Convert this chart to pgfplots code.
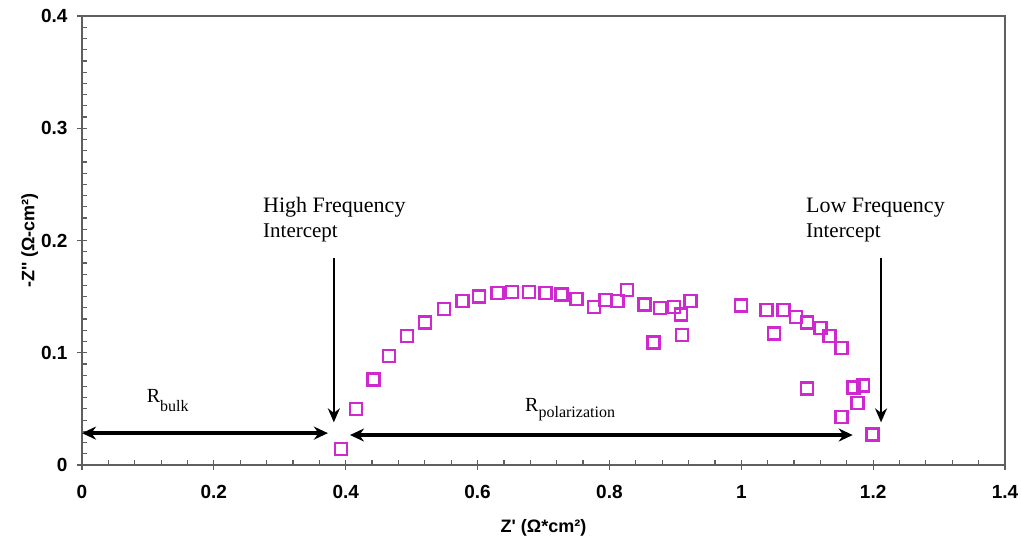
\documentclass[border=0pt]{standalone}
\usepackage{pgfplots}
\pgfplotsset{compat=1.18}
\usepackage{fontspec}
\setmainfont{Liberation Serif}
\setsansfont{Liberation Sans}
\newfontfamily\labfont[Ligatures=TeXOff]{Liberation Sans}
\usetikzlibrary{arrows.meta}

\definecolor{ptmag}{RGB}{208,40,208}
\definecolor{axgray}{RGB}{95,95,95}

% Impedance spectrum: Z' vs -Z''
\pgfplotstableread{
x      y
0.393  0.014
0.416  0.050
0.442  0.076
0.466  0.097
0.493  0.115
0.520  0.127
0.549  0.139
0.577  0.146
0.602  0.150
0.630  0.153
0.652  0.154
0.678  0.154
0.703  0.153
0.727  0.152
0.750  0.148
0.777  0.141
0.794  0.147
0.812  0.146
0.827  0.156
0.853  0.143
0.867  0.109
0.877  0.140
0.898  0.141
0.909  0.134
0.910  0.116
0.923  0.146
1.000  0.142
1.038  0.138
1.064  0.138
1.050  0.117
1.083  0.132
1.100  0.127
1.120  0.122
1.134  0.115
1.152  0.104
1.100  0.068
1.170  0.069
1.185  0.071
1.176  0.055
1.152  0.043
1.199  0.027
}\eis

\begin{document}
\begin{tikzpicture}[x=1pt,y=1pt]
\path[use as bounding box] (-82,-85) rectangle (939,465);
\begin{axis}[
  at={(0,0)}, anchor=south west,
  scale only axis, width=923pt, height=449pt,
  xmin=0, xmax=1.4, ymin=0, ymax=0.4,
  xtick={0,0.2,...,1.4}, ytick={0,0.1,...,0.4},
  minor x tick num=4, minor y tick num=9,
  xtick pos=bottom, ytick pos=left,
  tick align=center,
  major tick length=10pt, minor tick length=5pt,
  every tick/.style={axgray, line width=1.2pt},
  minor x tick style={yshift=2.5pt},
  minor y tick style={xshift=2.5pt},
  axis line style={axgray, line width=1.6pt},
  /pgf/number format/assume math mode=true,
  ticklabel style={font=\sffamily\bfseries\fontsize{19}{19}\selectfont},
  xticklabel style={yshift=-12pt},
  yticklabel style={xshift=-6pt},
  xlabel={Z' (Ω*cm²)},
  ylabel={-Z'' (Ω-cm²)},
  label style={font=\labfont\bfseries\fontsize{18}{18}\selectfont},
  xlabel style={yshift=-14pt},
  ylabel style={yshift=-4pt},
  clip=false,
]
\addplot[only marks, mark=square, mark size=6pt,
  mark options={draw=ptmag, fill=white, line width=2.4pt}]
  table[x=x,y=y] {\eis};

% intercept arrows
\draw[line width=2pt, -{Stealth[length=14pt,width=12pt]}]
  (axis cs:0.382,0.184) -- (axis cs:0.382,0.038);
\draw[line width=2pt, -{Stealth[length=14pt,width=12pt]}]
  (axis cs:1.212,0.184) -- (axis cs:1.212,0.038);
% resistance spans
\draw[line width=3.5pt, {Stealth[length=14pt,width=13pt]}-{Stealth[length=14pt,width=13pt]}]
  (axis cs:0.0,0.0284) -- (axis cs:0.373,0.0284);
\draw[line width=3.5pt, {Stealth[length=14pt,width=13pt]}-{Stealth[length=14pt,width=13pt]}]
  (axis cs:0.4065,0.0267) -- (axis cs:1.169,0.0267);

% text annotations
\node[anchor=base west, inner sep=0pt, font=\fontsize{22}{22}\selectfont]
  at (axis cs:0.2745,0.2249) {High Frequency};
\node[anchor=base west, inner sep=0pt, font=\fontsize{21}{21}\selectfont]
  at (axis cs:0.2745,0.2027) {Intercept};
\node[anchor=base west, inner sep=0pt, font=\fontsize{22}{22}\selectfont]
  at (axis cs:1.098,0.2249) {Low Frequency};
\node[anchor=base west, inner sep=0pt, font=\fontsize{21}{21}\selectfont]
  at (axis cs:1.098,0.2027) {Intercept};
\node[anchor=base west, inner sep=0pt, font=\fontsize{20}{20}\selectfont]
  at (axis cs:0.098,0.0555) {R\raisebox{-9pt}{\fontsize{16}{16}\selectfont bulk}};
\node[anchor=base west, inner sep=0pt, font=\fontsize{20}{20}\selectfont]
  at (axis cs:0.672,0.0480) {R\raisebox{-6pt}{\fontsize{16}{16}\selectfont polarization}};
\end{axis}
\end{tikzpicture}
\end{document}
